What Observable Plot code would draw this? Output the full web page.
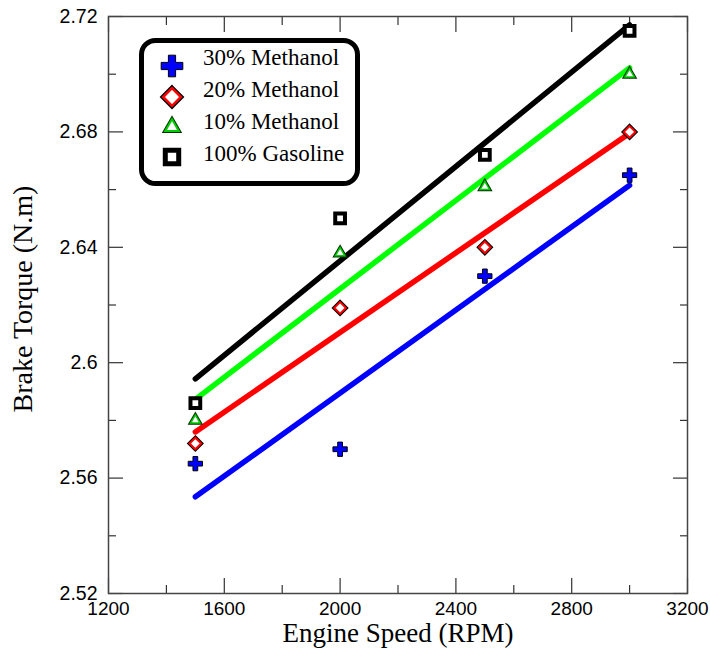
<!DOCTYPE html>
<html><head><meta charset="utf-8">
<script src="https://cdn.jsdelivr.net/npm/d3@7"></script>
<script src="https://cdn.jsdelivr.net/npm/@observablehq/plot@0.6"></script>
<style>
html,body{margin:0;padding:0;background:#fff;}
#wrap{position:relative;width:710px;height:650px;}
#wrap svg.overlay{position:absolute;left:0;top:0;pointer-events:none;}
</style></head><body><div id="wrap"></div>
<script>
const speeds = [1500, 2000, 2500, 3000];
const series = ["30% Methanol", "20% Methanol", "10% Methanol", "100% Gasoline"];
const methanol30 = [2.565, 2.570, 2.630, 2.665];
const methanol20 = [2.572, 2.619, 2.640, 2.680];
const methanol10 = [2.580, 2.638, 2.661, 2.700];
const gasoline   = [2.586, 2.650, 2.672, 2.715];
const xTicks = [1200, 1600, 2000, 2400, 2800, 3200];
const xMinor = [1400, 1800, 2200, 2600, 3000];
const yTicks = [2.52, 2.56, 2.6, 2.64, 2.68, 2.72];
const yMinor = [2.54, 2.58, 2.62, 2.66, 2.70];
const lineColors = ["#0000ff", "#ff0000", "#00ff00", "#000000"];

const data = [];
[methanol30, methanol20, methanol10, gasoline].forEach((vals, i) =>
  vals.forEach((v, j) => data.push({series: series[i], speed: speeds[j], torque: v})));
const bySeries = s => data.filter(d => d.series === s);

const sans = "'Liberation Sans', Arial, sans-serif";
const serif = "'Liberation Serif', 'Times New Roman', serif";
const fmt = d => String(d);

const tickAxes = [];
for (const anchor of ["bottom", "top"]) {
  tickAxes.push(Plot.axisX(xTicks, {anchor, tickSize: -15, text: null, stroke: "#333", strokeWidth: 1.2}));
  tickAxes.push(Plot.axisX(xMinor, {anchor, tickSize: -8, text: null, stroke: "#333", strokeWidth: 1.2}));
}
for (const anchor of ["left", "right"]) {
  tickAxes.push(Plot.axisY(yTicks, {anchor, tickSize: -15, text: null, stroke: "#333", strokeWidth: 1.2}));
  tickAxes.push(Plot.axisY(yMinor, {anchor, tickSize: -8, text: null, stroke: "#333", strokeWidth: 1.2}));
}

const xy = {x: "speed", y: "torque"};
const chart = Plot.plot({
  width: 710, height: 650,
  marginLeft: 108, marginRight: 23, marginTop: 16, marginBottom: 57,
  style: {background: "white", overflow: "visible", fontSize: "19px", fontFamily: sans},
  x: {domain: [1200, 3200], label: null},
  y: {domain: [2.52, 2.72], label: null},
  color: {domain: series, range: lineColors},
  marks: [
    Plot.axisX(xTicks, {anchor: "bottom", tickSize: 0, tickPadding: 8, tickFormat: fmt, fontSize: 19, fontFamily: sans, fill: "#000", label: null}),
    Plot.axisY(yTicks, {anchor: "left", tickSize: 0, tickPadding: 11, tickFormat: fmt, fontSize: 19.5, fontFamily: sans, fill: "#000", label: null}),
    ...tickAxes,
    Plot.frame({stroke: "#444", strokeWidth: 1.5}),
    Plot.linearRegressionY(data, {...xy, stroke: "series", ci: 0, strokeWidth: 5.5, strokeLinecap: "round"}),
    Plot.dot(bySeries(series[0]), {...xy, symbol: "cross", r: 6, fill: "#0000ff", stroke: "#000", strokeWidth: 1}),
    Plot.dot(bySeries(series[1]), {...xy, symbol: "diamond2", r: 5.2, fill: "white", stroke: "#000", strokeWidth: 4}),
    Plot.dot(bySeries(series[1]), {...xy, symbol: "diamond2", r: 5.2, fill: "white", stroke: "#ff0000", strokeWidth: 2}),
    Plot.dot(bySeries(series[2]), {...xy, symbol: "triangle2", r: 4.5, fill: "white", stroke: "#003300", strokeWidth: 3.5}),
    Plot.dot(bySeries(series[2]), {...xy, symbol: "triangle2", r: 4.5, fill: "white", stroke: "#00cc00", strokeWidth: 1.5}),
    Plot.dot(bySeries(series[3]), {...xy, symbol: "square", r: 5.5, fill: "white", stroke: "#000", strokeWidth: 4}),
    Plot.text(["Engine Speed (RPM)"], {frameAnchor: "bottom", dy: 48, text: d => d, fontSize: 27, fontFamily: serif, fill: "#000"})
  ]
});
const wrap = document.getElementById("wrap");
wrap.appendChild(chart);

const ov = d3.select(wrap).append("svg").attr("class", "overlay").attr("width", 710).attr("height", 650);
// y-axis title
ov.append("text").attr("transform", "translate(22,299) rotate(-90)")
  .attr("text-anchor", "middle").attr("dy", "0.35em")
  .attr("font-family", serif).attr("font-size", 28).attr("fill", "#000").text("Brake Torque (N.m)");

// Legend
ov.append("rect").attr("x", 141.5).attr("y", 40.5).attr("width", 216).attr("height", 143).attr("rx", 14)
  .attr("fill", "white").attr("stroke", "#000").attr("stroke-width", 5);
const symY = [66, 97, 127, 157];
const textY = [57, 89, 121, 153];
const legStyles = [
  [{type: d3.symbolCross, size: 260, fill: "#0000ff", stroke: "#000", sw: 1}],
  [{type: d3.symbolDiamond2, size: 200, fill: "white", stroke: "#000", sw: 5}, {type: d3.symbolDiamond2, size: 200, fill: "white", stroke: "#ff0000", sw: 2.5}],
  [{type: d3.symbolTriangle2, size: 130, fill: "white", stroke: "#003300", sw: 4}, {type: d3.symbolTriangle2, size: 130, fill: "white", stroke: "#00cc00", sw: 2}],
  [{type: d3.symbolSquare, size: 180, fill: "white", stroke: "#000", sw: 5}]
];
series.forEach((s, i) => {
  legStyles[i].forEach(st => {
    ov.append("path").attr("transform", `translate(172,${symY[i]})`)
      .attr("d", d3.symbol(st.type, st.size)())
      .attr("fill", st.fill).attr("stroke", st.stroke).attr("stroke-width", st.sw);
  });
  ov.append("text").attr("x", 203).attr("y", textY[i]).attr("dy", "0.35em")
    .attr("font-family", serif).attr("font-size", 23).attr("fill", "#000").text(s);
});
</script></body></html>
